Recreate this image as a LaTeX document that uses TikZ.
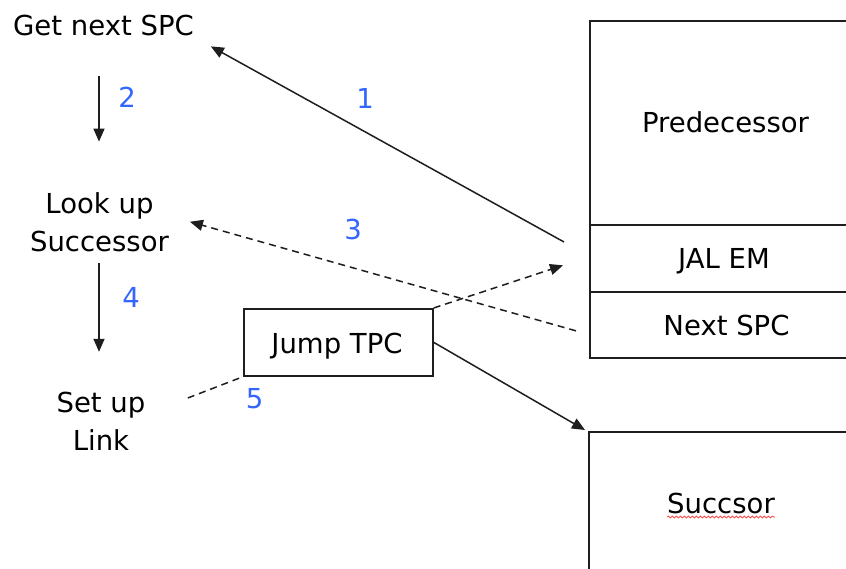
\documentclass[tikz,border=0pt]{standalone}
\usepackage{fontspec}
\setmainfont{DejaVu Sans}
\usetikzlibrary{arrows.meta,decorations.pathmorphing}
\definecolor{stepnum}{RGB}{51,102,255}
\definecolor{inkline}{RGB}{30,30,30}

\begin{document}
\begin{tikzpicture}[x=1pt,y=-1pt,
  lbl/.style={font=\fontsize{27.5}{38}\selectfont, inner sep=0pt, outer sep=0pt, align=center},
  baselbl/.style={lbl, anchor=base},
  num/.style={baselbl, text=stepnum},
  frame/.style={draw=inkline, line width=1.7pt, inner sep=0pt, anchor=north west},
  flow/.style={draw=inkline, line width=1.5pt, -{Triangle[length=13pt,width=11pt]}},
  flowdash/.style={flow, dash pattern=on 7pt off 5pt},
  plaindash/.style={draw=inkline, line width=1.5pt, dash pattern=on 7pt off 5pt},
  spellmark/.style={draw=red!80!white, line width=0.7pt,
    decorate, decoration={snake, segment length=4pt, amplitude=1pt}},
]
\useasboundingbox (0,0) rectangle (846,569);
\clip (0,0) rectangle (846,569);
\fill[white] (0,0) rectangle (846,569);

% memory blocks on the right (they run past the right edge)
\node[frame, minimum width=273pt, minimum height=204pt] (pred) at (589,20) {};
\node[frame, minimum width=273pt, minimum height=67pt]  (jal)  at (589,224) {};
\node[frame, minimum width=273pt, minimum height=66pt]  (nspc) at (589,291) {};
\node[frame, minimum width=273pt, minimum height=200pt] (succ) at (588,431) {};
\node[frame, minimum width=189pt, minimum height=67pt]  (jump) at (243,308) {};

% block labels
\node[baselbl] (predtext) at (725.5,133) {Predecessor};
\node[baselbl] (jaltext)  at (724,269)   {JAL EM};
\node[baselbl] (nspctext) at (726.5,335) {Next SPC};
\node[baselbl] (succtext) at (721,513)   {Succsor};
\node[baselbl] (jumptext) at (337,353)   {Jump TPC};

% steps on the left
\node[baselbl] (getnext) at (103.5,36) {Get next SPC};
\node[lbl] (lookup) at (99.5,221.75) {Look up\\Successor};
\node[lbl] (setup)  at (101,421) {Set up\\Link};

% spelling mark under the successor label
\path[spellmark] ([yshift=-4pt]succtext.base west) -- ([yshift=-4pt]succtext.base east);

% step numbers
\node[num] (n1) at (365,109)   {1};
\node[num] (n2) at (127,108)   {2};
\node[num] (n3) at (353,240)   {3};
\node[num] (n4) at (131,308)   {4};
\node[num] (n5) at (254.5,408) {5};

% connectors
\draw[flow] ([shift={(-25,18)}]jal.north west) -- ([shift={(17,10)}]getnext.south east);
\draw[flow] ([shift={(-4.5,40)}]getnext.south) -- ([shift={(-0.5,-50.5)}]lookup.north);
\draw[flowdash] ([shift={(-13,6)}]nspc.west) -- ([shift={(21,0)}]lookup.east);
\draw[flow] ([shift={(-0.5,12)}]lookup.south) -- ([shift={(-2,-40)}]setup.north);
\draw[plaindash] ([shift={(42.4,-23)}]setup.east) -- (jump.south west);
\draw[flowdash] (jump.north east) -- ([shift={(-26,7)}]jal.west);
\draw[flow] (jump.east) -- ([shift={(-3,-1)}]succ.north west);
\end{tikzpicture}
\end{document}
